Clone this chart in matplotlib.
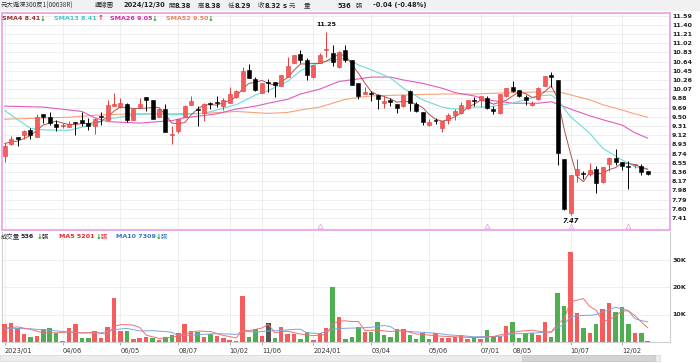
import matplotlib
matplotlib.use('Agg')
import matplotlib.pyplot as plt
import numpy as np
from matplotlib.patches import Rectangle

W, H = 700, 363

# weekly OHLC, 2023/01 .. 2024/12/30
opens = [8.69, 8.93, 9.08, 9.13, 9.23, 9.08, 9.55, 9.50, 9.35, 9.30,
         9.28, 9.39, 9.44, 9.37, 9.31, 9.51, 9.44, 9.73, 9.70, 9.77,
         9.44, 9.71, 9.90, 9.85, 9.50, 9.67, 9.13, 9.20, 9.50, 9.75,
         9.67, 9.57, 9.77, 9.80, 9.72, 9.78, 9.90, 10.04, 10.47, 10.28,
         10.00, 10.21, 10.21, 10.14, 10.33, 10.62, 10.79, 10.67, 10.32, 10.61,
         10.88, 10.81, 10.52, 10.88, 10.67, 10.19, 9.97, 9.99, 9.95, 9.78,
         9.85, 9.77, 9.73, 10.04, 9.77, 9.59, 9.33, 9.42, 9.26, 9.44,
         9.54, 9.57, 9.68, 9.84, 9.85, 9.88, 9.67, 9.57, 9.92, 10.12,
         10.06, 9.90, 9.74, 9.86, 10.14, 10.37, 10.25, 8.62, 7.52, 8.30,
         8.33, 8.32, 8.42, 8.15, 8.53, 8.64, 8.57, 8.48, 8.50, 8.49,
         8.38]
highs = [8.95, 9.10, 9.09, 9.23, 9.26, 9.55, 9.55, 9.59, 9.44, 9.38,
         9.42, 9.39, 9.59, 9.47, 9.47, 9.59, 9.85, 10.00, 9.88, 9.78,
         9.67, 9.88, 9.90, 9.85, 9.68, 9.77, 9.31, 9.45, 9.75, 9.92,
         9.72, 9.78, 9.81, 9.92, 9.88, 10.11, 10.06, 10.52, 10.59, 10.33,
         10.19, 10.28, 10.21, 10.36, 10.73, 10.78, 10.88, 10.71, 10.57, 10.81,
         11.25, 10.98, 10.85, 10.98, 10.67, 10.19, 10.12, 10.04, 9.97, 9.93,
         9.88, 9.77, 9.95, 10.06, 9.81, 9.59, 9.45, 9.48, 9.42, 9.57,
         9.66, 9.81, 9.85, 9.90, 9.92, 9.93, 9.72, 9.97, 10.09, 10.23,
         10.06, 9.95, 9.83, 10.12, 10.34, 10.43, 10.25, 8.62, 8.30, 8.62,
         8.39, 8.54, 8.49, 8.47, 8.67, 8.83, 8.57, 8.58, 8.53, 8.53,
         8.38]
lows = [8.56, 8.91, 8.89, 9.04, 9.04, 9.08, 9.38, 9.33, 9.21, 9.26,
        9.28, 9.13, 9.30, 9.23, 9.14, 9.33, 9.44, 9.73, 9.68, 9.40,
        9.44, 9.71, 9.61, 9.46, 9.49, 9.19, 8.94, 9.17, 9.49, 9.75,
        9.31, 9.42, 9.66, 9.70, 9.63, 9.78, 9.88, 10.04, 10.30, 10.04,
        10.00, 10.02, 9.90, 10.14, 10.33, 10.61, 10.61, 10.26, 10.30, 10.61,
        10.74, 10.55, 10.50, 10.63, 10.16, 9.86, 9.97, 9.83, 9.66, 9.68,
        9.72, 9.57, 9.71, 9.61, 9.59, 9.33, 9.31, 9.35, 9.18, 9.35,
        9.44, 9.56, 9.66, 9.72, 9.70, 9.66, 9.55, 9.55, 9.90, 10.02,
        9.90, 9.75, 9.72, 9.85, 10.14, 10.12, 8.51, 7.58, 7.47, 8.16,
        8.21, 8.28, 7.92, 8.13, 8.39, 8.51, 8.40, 8.00, 8.44, 8.30,
        8.29]
closes = [8.89, 9.04, 9.05, 9.20, 9.13, 9.50, 9.49, 9.37, 9.28, 9.34,
          9.36, 9.38, 9.37, 9.31, 9.45, 9.50, 9.74, 9.77, 9.79, 9.44,
          9.67, 9.77, 9.85, 9.46, 9.66, 9.19, 9.15, 9.45, 9.72, 9.83,
          9.65, 9.77, 9.76, 9.79, 9.85, 9.97, 10.03, 10.45, 10.30, 10.06,
          10.19, 10.19, 10.15, 10.36, 10.54, 10.78, 10.67, 10.36, 10.57, 10.78,
          10.90, 10.64, 10.83, 10.67, 10.16, 9.93, 10.02, 9.98, 9.86, 9.83,
          9.81, 9.68, 9.95, 9.78, 9.61, 9.40, 9.39, 9.41, 9.42, 9.54,
          9.62, 9.75, 9.85, 9.83, 9.92, 9.68, 9.62, 9.97, 10.09, 10.04,
          9.93, 9.84, 9.79, 10.10, 10.34, 10.33, 8.75, 7.59, 8.30, 8.43,
          8.32, 8.40, 8.13, 8.47, 8.64, 8.56, 8.49, 8.47, 8.51, 8.36,
          8.32]
volumes = [6500, 7000, 5000, 2900, 1700, 2300, 4600, 5000, 3100, 400,
           5200, 6500, 1300, 1300, 3900, 1600, 5600, 16100, 4100, 3900,
           1000, 1600, 1900, 1500, 700, 1900, 2500, 3400, 6500, 4100,
           3500, 1900, 2900, 2200, 1300, 700, 400, 16600, 1700, 4700,
           2200, 7000, 1500, 5600, 3000, 3000, 1200, 3500, 700, 3100,
           5100, 20100, 9200, 1000, 1700, 5300, 3800, 3500, 7400, 2500,
           1900, 4600, 4600, 2500, 1000, 3400, 1000, 3400, 1600, 1600,
           1900, 2400, 1000, 1600, 1000, 4400, 2200, 2200, 5900, 7400,
           1600, 3400, 3100, 2400, 7300, 1900, 17700, 13200, 32700, 10400,
           5000, 3100, 6500, 12100, 14200, 10900, 12800, 6500, 3400, 3100,
           536]

# moving average lines
sma4 = [8.95, 8.98, 9.00, 9.05, 9.11, 9.22, 9.33, 9.37, 9.41, 9.37,
        9.34, 9.34, 9.36, 9.36, 9.38, 9.41, 9.50, 9.62, 9.70, 9.69,
        9.67, 9.67, 9.68, 9.69, 9.69, 9.54, 9.37, 9.36, 9.38, 9.54,
        9.66, 9.74, 9.75, 9.74, 9.79, 9.84, 9.91, 10.08, 10.19, 10.21,
        10.25, 10.19, 10.15, 10.22, 10.31, 10.46, 10.59, 10.59, 10.60, 10.60,
        10.65, 10.72, 10.79, 10.76, 10.58, 10.40, 10.20, 10.02, 9.95, 9.92,
        9.87, 9.80, 9.82, 9.81, 9.76, 9.69, 9.55, 9.45, 9.41, 9.44,
        9.50, 9.58, 9.69, 9.76, 9.84, 9.82, 9.76, 9.80, 9.84, 9.93,
        10.01, 9.98, 9.90, 9.92, 10.02, 10.14, 9.88, 9.25, 8.74, 8.27,
        8.16, 8.36, 8.32, 8.33, 8.41, 8.45, 8.54, 8.54, 8.51, 8.46,
        8.42]
sma13_idx = [0, 4, 6, 10, 14, 16, 20, 24, 26, 31, 33, 36, 39, 41, 44, 46, 49, 53, 55,
             57, 60, 62, 65, 68, 70, 73, 75, 79, 83, 85, 86, 88, 91, 93, 96, 98, 100]
sma13 = [9.63, 9.26, 9.23, 9.22, 9.35, 9.45, 9.54, 9.57, 9.54, 9.57, 9.64, 9.75, 9.95,
         10.04, 10.23, 10.45, 10.62, 10.71, 10.57, 10.47, 10.30, 10.09, 9.85, 9.70, 9.66,
         9.70, 9.70, 9.78, 9.93, 9.95, 9.85, 9.50, 9.16, 8.85, 8.61, 8.47, 8.41]
sma26_idx = [0, 6, 12, 14, 16, 21, 26, 28, 33, 36, 39, 41, 44, 46, 49, 52, 55, 57, 60,
             62, 65, 68, 70, 73, 75, 79, 83, 85, 88, 91, 93, 96, 98, 100]
sma26 = [9.72, 9.70, 9.61, 9.48, 9.40, 9.37, 9.42, 9.48, 9.56, 9.66, 9.72, 9.78, 9.86,
         9.97, 10.07, 10.23, 10.28, 10.32, 10.32, 10.26, 10.19, 10.09, 10.00, 9.93, 9.85,
         9.78, 9.78, 9.81, 9.66, 9.52, 9.44, 9.33, 9.17, 9.06]
sma52_idx = [0, 10, 15, 20, 26, 31, 36, 41, 44, 46, 49, 53, 55, 57, 62, 68, 73, 79, 86,
             91, 93, 96, 98, 100]
sma52 = [9.45, 9.49, 9.54, 9.56, 9.56, 9.57, 9.61, 9.57, 9.59, 9.64, 9.70, 9.86, 9.90,
         9.93, 9.95, 9.97, 9.97, 10.00, 10.02, 9.85, 9.75, 9.64, 9.56, 9.49]

vma5_idx = [0, 2, 4, 6, 8, 10, 12, 14, 16, 17, 18, 19, 20, 21, 22, 24, 26, 28, 30, 32,
            34, 36, 37, 38, 40, 41, 42, 44, 46, 48, 50, 51, 52, 53, 54, 55, 56, 58, 60,
            62, 64, 66, 68, 70, 72, 74, 76, 78, 80, 82, 84, 85, 86, 87, 88, 89, 90, 91,
            92, 93, 94, 95, 96, 97, 98, 99, 100]
vma5 = [5000, 5500, 4600, 3300, 3300, 3700, 3300, 3600, 2700, 5700, 6300, 6300, 6100,
        5300, 2500, 1300, 1700, 3000, 4000, 3800, 2400, 1500, 4200, 4100, 5100, 6400,
        3400, 3900, 2900, 2300, 2700, 6500, 7600, 7700, 7400, 7500, 4200, 4300, 3800,
        4200, 2900, 2500, 2100, 1900, 1700, 1600, 2000, 3100, 3900, 4300, 3600, 3600,
        6500, 8500, 14600, 15200, 15800, 12900, 11500, 7400, 8200, 9400, 11300, 11300,
        9600, 7300, 5201]
vma10_idx = [0, 4, 9, 12, 15, 17, 19, 21, 23, 25, 26, 27, 29, 31, 33, 35, 36, 37, 39,
             41, 43, 45, 46, 47, 49, 51, 53, 55, 57, 59, 60, 61, 63, 65, 67, 69, 71, 73,
             75, 77, 79, 81, 83, 85, 86, 87, 88, 89, 90, 91, 92, 93, 94, 95, 96, 97, 98,
             99, 100]
vma10 = [5000, 4800, 3850, 3300, 3300, 4500, 4950, 4000, 4100, 3800, 3500, 2250, 2500,
         2800, 3000, 2900, 2700, 4000, 3600, 4000, 4200, 4600, 4650, 3300, 3100, 4700,
         5000, 5100, 5350, 6000, 5600, 4100, 3800, 3500, 3200, 2600, 2300, 1900, 2000,
         2000, 3000, 3100, 3400, 3700, 5300, 6400, 9100, 9400, 9700, 9700, 10000, 11000,
         11700, 12600, 12100, 11400, 8500, 7800, 7309]

price_ticks = [11.59, 11.40, 11.21, 11.02, 10.83, 10.64, 10.45, 10.26, 10.07, 9.88, 9.69,
               9.50, 9.31, 9.12, 8.93, 8.74, 8.55, 8.36, 8.17, 7.98, 7.79, 7.60, 7.41]
vol_ticks = [10000, 20000, 30000]
vol_tick_labels = ['10K', '20K', '30K']
date_idx = [0, 9, 18, 27, 35, 40, 48, 57, 66, 74, 79, 88, 96]
date_labels = ['2023/01', '04/06', '06/05', '08/07', '10/02', '11/06', '2024/01',
               '03/04', '05/06', '07/01', '08/05', '10/07', '12/02']
mark_idx = [49, 75, 88, 97]

RED = '#f55d5d'
RED_EDGE = '#e23b3b'
GREEN = '#4fae4f'
CJK = ['Noto Sans CJK TC', 'DejaVu Sans']


def px_axes(fig, x0, y0, x1, y1):
    return fig.add_axes([x0 / W, 1 - y1 / H, (x1 - x0) / W, (y1 - y0) / H])


def ptext(fig, x, y, s, **kw):
    kw.setdefault('va', 'center')
    return fig.text(x / W, 1 - y / H, s, **kw)


fig = plt.figure(figsize=(W / 100, H / 100), dpi=100, facecolor='white')
fig.patches.append(Rectangle((0, 1 - 11 / H), 1, 11 / H, transform=fig.transFigure,
                             facecolor='#f1f1f1', edgecolor='none', zorder=0))

O = np.array(opens); Hh = np.array(highs); L = np.array(lows); C = np.array(closes)
n = len(C)
x = np.arange(n)
xlim = (-0.42, 103.47)

# ---- price panel ----
ax = px_axes(fig, 2, 13, 670, 230)
ax.set_xlim(*xlim)
ax.set_ylim(7.163, 11.642)
ax.set_yticks(price_ticks)
ax.set_yticklabels(['%.2f' % t for t in price_ticks])
ax.yaxis.tick_right()
ax.tick_params(axis='y', length=0, pad=1.5, labelsize=4.6, labelcolor='#222222')
for t in ax.get_yticklabels():
    t.set_fontweight('bold')
ax.set_xticks(date_idx)
ax.tick_params(axis='x', length=0, labelbottom=False)
ax.grid(True, color='#ebebeb', lw=0.6)
ax.set_axisbelow(True)
for s in ax.spines.values():
    s.set_color('#eaa6e6')
    s.set_linewidth(1.3)

ax.plot(sma52_idx, sma52, color='#f7a27a', lw=0.8, zorder=2)
ax.plot(sma26_idx, sma26, color='#e05cc0', lw=0.8, zorder=2)
ax.plot(sma13_idx, sma13, color='#6fdada', lw=0.8, zorder=2)
ax.plot(x, sma4, color='#b5524a', lw=0.7, zorder=2)

up = C >= O
body_col = np.where(up, RED, '#000000')
edge_col = np.where(up, RED_EDGE, '#000000')
ax.vlines(x, L, Hh, colors=edge_col, lw=0.7, zorder=3)
ax.bar(x, np.maximum(np.abs(C - O), 0.015), bottom=np.minimum(O, C), width=0.62,
       color=body_col, edgecolor=edge_col, lw=0.4, zorder=4)

ax.plot(mark_idx, [0.018] * len(mark_idx), transform=ax.get_xaxis_transform(),
        ls='none', marker='^', ms=3.5, mfc='none', mec='#e7a7e0', mew=0.6, zorder=5)

ih = int(np.argmax(Hh)); il = int(np.argmin(L))
ax.annotate('%.2f' % Hh[ih], (ih, Hh[ih]), xytext=(0, 3.5), textcoords='offset points',
            ha='center', va='bottom', fontsize=4.6, fontweight='bold', color='#111111')
ax.annotate('%.2f' % L[il], (il, L[il]), xytext=(0, -2), textcoords='offset points',
            ha='center', va='top', fontsize=4.8, fontweight='bold', style='italic',
            color='#111111')

# ---- volume panel ----
axv = px_axes(fig, 2, 232, 670, 342)
axv.set_xlim(*xlim)
axv.set_ylim(0, 40000)
prev = np.r_[C[0] - 1, C[:-1]]
vcol = np.where(C > prev, RED, np.where(C < prev, GREEN, '#555555'))
axv.bar(x, volumes, width=0.7, color=vcol, zorder=3)
axv.plot(vma10_idx, vma10, color='#7aa6dc', lw=0.7, zorder=4)
axv.plot(vma5_idx, vma5, color='#f07070', lw=0.7, zorder=4)
axv.set_yticks(vol_ticks)
axv.set_yticklabels(vol_tick_labels)
axv.yaxis.tick_right()
axv.tick_params(axis='y', length=0, pad=1.5, labelsize=4.6, labelcolor='#222222')
for t in axv.get_yticklabels():
    t.set_fontweight('bold')
axv.set_xticks(date_idx)
axv.set_xticklabels(date_labels)
axv.tick_params(axis='x', length=2.5, width=0.6, color='#999999', pad=1.5,
                labelsize=4.8, labelcolor='#333333')
for t in axv.get_xticklabels():
    t.set_ha('left')
axv.grid(True, color='#ebebeb', lw=0.6)
axv.set_axisbelow(True)
axv.spines['top'].set_visible(False)
for k in ('left', 'right', 'bottom'):
    axv.spines[k].set_color('#cfcfcf')
    axv.spines[k].set_linewidth(0.8)

# ---- header ----
hy = 5.5
HC = dict(fontsize=4.6, family=CJK, color='#333333')
HN = dict(fontsize=4.8, fontweight='bold', color='#222222')
ptext(fig, 1, hy, '元大滬深300反1(00638R)', **HC)
ptext(fig, 95, hy, '週線圖', **HC)
ptext(fig, 123, hy, '2024/12/30', **HN)
head = [(168, '開', 175, '8.38'), (198, '高', 205, '8.38'), (228, '低', 235, '8.29'),
        (258, '收', 265, '8.32')]
for xc, ch, xn, num in head:
    ptext(fig, xc, hy, ch, **HC)
    ptext(fig, xn, hy, num, **HN)
ptext(fig, 283, hy, 's', **HN)
ptext(fig, 289, hy, '元', **HC)
ptext(fig, 304, hy, '量', **HC)
ptext(fig, 337, hy, '536', **HN)
ptext(fig, 356, hy, '張', **HC)
ptext(fig, 373, hy, '-0.04 (-0.48%)', **HN)

# ---- legends ----
ly = 18.5
legend = [(2, 'SMA4 8.41', '#9b2d2d', 40, '↓', '#1e9a1e'),
          (54, 'SMA13 8.41', '#3cc8c8', 98, '↑', '#e02020'),
          (110, 'SMA26 9.05', '#d2279a', 152, '↓', '#1e9a1e'),
          (166, 'SMA52 9.50', '#f08050', 208, '↓', '#1e9a1e')]
for xt, s, c, xa, arr, ac in legend:
    ptext(fig, xt, ly, s, fontsize=4.6, fontweight='bold', color=c)
    ptext(fig, xa, ly, arr, fontsize=5, fontweight='bold', color=ac)

vy = 237
ptext(fig, 1, vy, '成交量', fontsize=4.6, family=CJK, color='#333333')
vleg = [(21, '536', '#222222', 37, 42),
        (59, 'MA5 5201', '#e52b2b', 96, 101),
        (116, 'MA10 7309', '#2f78c4', 156, 161)]
for xt, s, c, xa, xz in vleg:
    ptext(fig, xt, vy, s, fontsize=4.6, fontweight='bold', color=c)
    ptext(fig, xa, vy, '↓', fontsize=5, fontweight='bold', color='#1e9a1e')
    ptext(fig, xz, vy, '張', fontsize=4.6, family=CJK, color=c)

# ---- scroll bar ----
fig.patches.append(Rectangle((0, 1 - 361 / H), 660 / W, 6 / H, transform=fig.transFigure,
                             facecolor='#ececec', edgecolor='#d6d6d6', lw=0.5))
fig.patches.append(Rectangle((522 / W, 1 - 361 / H), 133 / W, 6 / H,
                             transform=fig.transFigure, facecolor='#d3d3d3',
                             edgecolor='#c4c4c4', lw=0.5))

fig.savefig('out.png', dpi=100, facecolor=fig.get_facecolor())
